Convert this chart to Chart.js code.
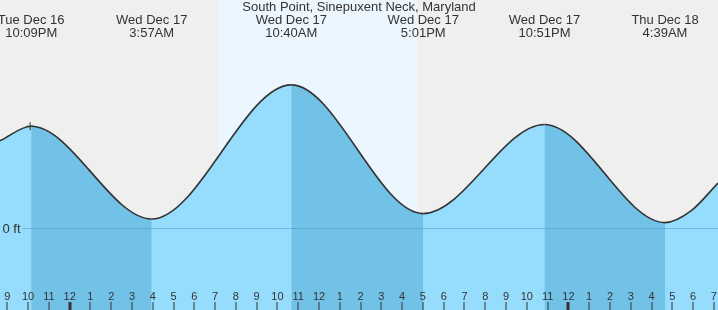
<!DOCTYPE html>
<html><head><meta charset="utf-8">
<script src="https://cdn.jsdelivr.net/npm/chart.js@4/dist/chart.umd.min.js"></script>
<style>html,body{margin:0;padding:0;background:#efefef;overflow:hidden}#wrap{width:718px;height:310px;position:relative}</style>
</head><body><div id="wrap"><canvas id="c" width="718" height="310"></canvas></div>
<script>
// Hours counted from 00:00 Tue Dec 16
const title = "South Point, Sinepuxent Neck, Maryland";
const curveHours = [20.65, 22.15, 27.95, 34.667, 41.017, 46.85, 52.65, 53.9, 55.2];
const curveFeet  = [0.97, 1.13, 0.10, 1.59, 0.16, 1.15, 0.06, 0.19, 0.50];
const extremaHours = [22.15, 27.95, 34.667, 41.017, 46.85, 52.65];
const extremaDates = ["Tue Dec 16", "Wed Dec 17", "Wed Dec 17", "Wed Dec 17", "Wed Dec 17", "Thu Dec 18"];
const extremaTimes = ["10:09PM", "3:57AM", "10:40AM", "5:01PM", "10:51PM", "4:39AM"];
const tickHours = [21,22,23,24,25,26,27,28,29,30,31,32,33,34,35,36,37,38,39,40,41,42,43,44,45,46,47,48,49,50,51,52,53,54,55];
const tickLabels = ["9","10","11","12","1","2","3","4","5","6","7","8","9","10","11","12","1","2","3","4","5","6","7","8","9","10","11","12","1","2","3","4","5","6","7"];
const midnightHours = [24, 48];
const daylight = [31.18, 40.72];
const markerHours = [22.1];
const markerFeet = [1.13];
const zeroLabel = "0 ft";

const LIGHT = "rgb(150,220,253)";
const DARK = "rgb(114,193,230)";
const NONE = "rgba(0,0,0,0)";
const FONT = "'Liberation Sans', Arial, sans-serif";

const overlay = {
  id: "overlay",
  beforeDraw(chart) {
    const {ctx, scales: {x}} = chart;
    ctx.save();
    ctx.fillStyle = "#efefef";
    ctx.fillRect(0, 0, chart.width, chart.height);
    const x0 = x.getPixelForValue(daylight[0]), x1 = x.getPixelForValue(daylight[1]);
    ctx.fillStyle = "rgb(235,246,254)";
    ctx.fillRect(x0, 0, x1 - x0, chart.height);
    ctx.restore();
  },
  afterDatasetsDraw(chart) {
    const {ctx, scales: {x, y}} = chart;
    ctx.save();
    const y0 = Math.round(y.getPixelForValue(0)) + 0.5;
    ctx.strokeStyle = "rgba(40,130,190,0.35)";
    ctx.lineWidth = 1;
    ctx.beginPath(); ctx.moveTo(22, y0); ctx.lineTo(chart.width, y0); ctx.stroke();
    ctx.fillStyle = "#333";
    ctx.font = "13px " + FONT;
    ctx.textAlign = "left"; ctx.textBaseline = "alphabetic";
    ctx.fillText(zeroLabel, 2.5, y0 + 4.5);
    ctx.font = "11px " + FONT;
    ctx.textAlign = "center";
    tickHours.forEach((h, i) => {
      const px = x.getPixelForValue(h);
      const mid = midnightHours.includes(h);
      ctx.fillStyle = "#333";
      if (mid) ctx.fillRect(Math.round(px) - 1.5, 302, 3, 8);
      else ctx.fillRect(Math.round(px) - 0.5, 302, 1, 8);
      ctx.fillText(tickLabels[i], px, 300);
    });
    ctx.font = "13px " + FONT;
    ctx.fillText(title, chart.width / 2, 11);
    extremaHours.forEach((h, i) => {
      const px = x.getPixelForValue(h);
      ctx.fillText(extremaDates[i], px, 24);
      ctx.fillText(extremaTimes[i], px, 37);
    });
    ctx.restore();
  }
};

const curvePoints = curveHours.map((h, i) => ({x: h, y: curveFeet[i]}));

new Chart(document.getElementById("c"), {
  type: "line",
  data: {
    datasets: [
      {
        data: curvePoints,
        borderWidth: 0,
        borderColor: NONE,
        pointRadius: 0,
        cubicInterpolationMode: "monotone",
        fill: "start",
        backgroundColor: LIGHT,
        order: 3
      },
      {
        data: curvePoints,
        borderColor: "#333",
        borderWidth: 1.6,
        pointRadius: 0,
        cubicInterpolationMode: "monotone",
        fill: "start",
        backgroundColor: NONE,
        segment: {
          backgroundColor: c => (c.p1.parsed.y < c.p0.parsed.y ? DARK : NONE)
        },
        order: 2
      },
      {
        data: markerHours.map((h, i) => ({x: h, y: markerFeet[i]})),
        showLine: false,
        pointStyle: "cross",
        pointRadius: 4,
        borderColor: "#333",
        borderWidth: 1,
        fill: false,
        order: 1
      }
    ]
  },
  options: {
    responsive: false,
    animation: false,
    events: [],
    layout: {padding: 0, autoPadding: false},
    scales: {
      x: {type: "linear", min: 20.649, max: 55.2, display: false},
      y: {min: -0.911, max: 2.533, display: false}
    },
    plugins: {legend: {display: false}, tooltip: {enabled: false}}
  },
  plugins: [overlay]
});
</script></body></html>
